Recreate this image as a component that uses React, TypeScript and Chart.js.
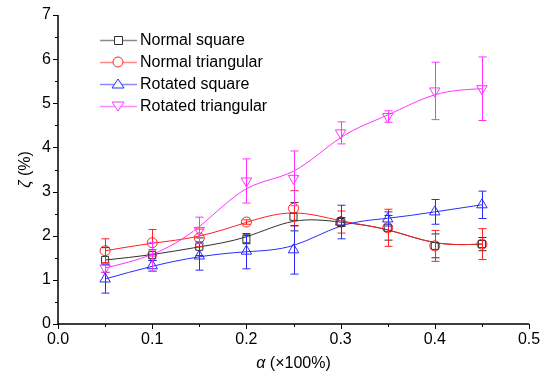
import React, { useEffect, useRef } from "react";
import { Chart, registerables } from "chart.js";

Chart.register(...registerables);

// Void fraction α (×100%)
const alpha = [0.05, 0.1, 0.15, 0.2, 0.25, 0.3, 0.35, 0.4, 0.45];

// Damping ratio ζ (%) and its error for each tube arrangement
const normalSquare = [1.45, 1.56, 1.75, 1.92, 2.43, 2.31, 2.18, 1.77, 1.81];
const normalSquareErr = [0.28, 0.12, 0.2, 0.1, 0.32, 0.1, 0.28, 0.27, 0.15];
const normalTriangular = [1.66, 1.84, 1.95, 2.31, 2.62, 2.31, 2.18, 1.77, 1.81];
const normalTriangularErr = [0.27, 0.3, 0.2, 0.05, 0.4, 0.25, 0.42, 0.35, 0.35];
const rotatedSquare = [1.02, 1.32, 1.54, 1.65, 1.68, 2.31, 2.38, 2.54, 2.7];
const rotatedSquareErr = [0.32, 0.12, 0.32, 0.4, 0.55, 0.38, 0.16, 0.28, 0.31];
const rotatedTriangular = [1.27, 1.52, 2.12, 3.24, 3.3, 4.33, 4.7, 5.28, 5.33];
const rotatedTriangularErr = [0.1, 0.33, 0.3, 0.5, 0.62, 0.25, 0.13, 0.65, 0.72];

const seriesNames = ["Normal square", "Normal triangular", "Rotated square", "Rotated triangular"];
const seriesColors = ["#303030", "#ff2020", "#2a2aff", "#ff33ff"];
const legendLineColors = ["#8a8a8a", "#ff8a8a", "#8a8aff", "#ff8aff"];
const seriesStyles = ["rect", "circle", "triangle", "triangle"];
const seriesRotation = [0, 0, 0, 180];

const xTicks = [0, 0.1, 0.2, 0.3, 0.4, 0.5];
const yTicks = [0, 1, 2, 3, 4, 5, 6, 7];

const FONT = "Arial, 'Liberation Sans', sans-serif";

// Connects each series with a cubic B-spline that uses the points as control
// points (clamped at both ends so it starts and ends on the first/last point).
const bsplinePlugin = {
  id: "bspline",
  beforeDatasetsDraw(chart: any) {
    const ctx = chart.ctx;
    const area = chart.chartArea;
    chart.data.datasets.forEach((ds: any, i: number) => {
      const meta = chart.getDatasetMeta(i);
      const pts = meta.data.map((el: any) => ({ x: el.x, y: el.y }));
      const n = pts.length;
      if (n < 2) return;
      const P = [
        { x: 2 * pts[0].x - pts[1].x, y: 2 * pts[0].y - pts[1].y },
        ...pts,
        { x: 2 * pts[n - 1].x - pts[n - 2].x, y: 2 * pts[n - 1].y - pts[n - 2].y },
      ];
      ctx.save();
      ctx.beginPath();
      ctx.rect(area.left, area.top, area.right - area.left, area.bottom - area.top);
      ctx.clip();
      ctx.strokeStyle = ds.borderColor;
      ctx.lineWidth = 1;
      ctx.beginPath();
      for (let k = 1; k < P.length - 2; k++) {
        const a = P[k - 1], b = P[k], c = P[k + 1], d = P[k + 2];
        const sx = (a.x + 4 * b.x + c.x) / 6;
        const sy = (a.y + 4 * b.y + c.y) / 6;
        if (k === 1) ctx.moveTo(sx, sy);
        ctx.bezierCurveTo(
          (2 * b.x + c.x) / 3, (2 * b.y + c.y) / 3,
          (b.x + 2 * c.x) / 3, (b.y + 2 * c.y) / 3,
          (b.x + 4 * c.x + d.x) / 6, (b.y + 4 * c.y + d.y) / 6
        );
      }
      ctx.stroke();
      ctx.restore();
    });
  },
};

const errorBarsPlugin = {
  id: "errorBars",
  afterDatasetsDraw(chart: any) {
    const ctx = chart.ctx;
    const xs = chart.scales.x;
    const ys = chart.scales.y;
    chart.data.datasets.forEach((ds: any) => {
      const errs: number[] = ds.errors;
      ctx.save();
      ctx.strokeStyle = ds.borderColor;
      ctx.lineWidth = 1;
      ds.data.forEach((p: any, j: number) => {
        const px = Math.round(xs.getPixelForValue(p.x)) + 0.5;
        const top = ys.getPixelForValue(p.y + errs[j]);
        const bot = ys.getPixelForValue(p.y - errs[j]);
        ctx.beginPath();
        ctx.moveTo(px, top);
        ctx.lineTo(px, bot);
        ctx.moveTo(px - 4, top);
        ctx.lineTo(px + 4, top);
        ctx.moveTo(px - 4, bot);
        ctx.lineTo(px + 4, bot);
        ctx.stroke();
      });
      ctx.restore();
    });
  },
};

const decorPlugin = {
  id: "decor",
  afterDraw(chart: any) {
    const ctx = chart.ctx;
    const xs = chart.scales.x;
    const ys = chart.scales.y;
    const area = chart.chartArea;
    ctx.save();
    ctx.strokeStyle = "#000";
    ctx.lineWidth = 1.5;
    // axis lines
    ctx.beginPath();
    ctx.moveTo(area.left, area.top);
    ctx.lineTo(area.left, area.bottom);
    ctx.lineTo(area.right, area.bottom);
    ctx.stroke();
    ctx.lineWidth = 1;
    // ticks (major + minor)
    ctx.beginPath();
    for (let v = 0; v <= 7.0001; v += 0.5) {
      const y = Math.round(ys.getPixelForValue(v)) + 0.5;
      const major = Math.abs(v - Math.round(v)) < 1e-6;
      ctx.moveTo(area.left, y);
      ctx.lineTo(area.left - (major ? 5 : 3), y);
    }
    for (let k = 0; k <= 10; k++) {
      const x = Math.round(xs.getPixelForValue(k * 0.05)) + 0.5;
      const major = k % 2 === 0;
      ctx.moveTo(x, area.bottom);
      ctx.lineTo(x, area.bottom + (major ? 5 : 3));
    }
    ctx.stroke();

    // tick labels
    ctx.fillStyle = "#000";
    ctx.font = `16px ${FONT}`;
    ctx.textAlign = "right";
    ctx.textBaseline = "middle";
    yTicks.forEach((v) => ctx.fillText(String(v), area.left - 7, ys.getPixelForValue(v)));
    ctx.textAlign = "center";
    ctx.textBaseline = "top";
    xTicks.forEach((v) => ctx.fillText(v.toFixed(1), xs.getPixelForValue(v), area.bottom + 8));

    // axis titles
    ctx.textBaseline = "middle";
    ctx.font = `italic 16px ${FONT}`;
    const a = "α";
    const rest = " (×100%)";
    const aw = ctx.measureText(a).width;
    ctx.font = `16px ${FONT}`;
    const rw = ctx.measureText(rest).width;
    const cx = (area.left + area.right) / 2;
    const ty = 364;
    ctx.textAlign = "left";
    ctx.font = `italic 16px ${FONT}`;
    ctx.fillText(a, cx - (aw + rw) / 2, ty);
    ctx.font = `16px ${FONT}`;
    ctx.fillText(rest, cx - (aw + rw) / 2 + aw, ty);

    ctx.save();
    ctx.translate(26, (area.top + area.bottom) / 2);
    ctx.rotate(-Math.PI / 2);
    ctx.font = `italic 16px ${FONT}`;
    const z = "ζ";
    const zr = " (%)";
    const zw = ctx.measureText(z).width;
    ctx.font = `16px ${FONT}`;
    const zrw = ctx.measureText(zr).width;
    ctx.font = `italic 16px ${FONT}`;
    ctx.fillText(z, -(zw + zrw) / 2, 0);
    ctx.font = `16px ${FONT}`;
    ctx.fillText(zr, -(zw + zrw) / 2 + zw, 0);
    ctx.restore();

    // legend
    const lx0 = 100;
    const lx1 = 137;
    const mx = 118;
    ctx.font = `16px ${FONT}`;
    ctx.textAlign = "left";
    ctx.textBaseline = "middle";
    seriesNames.forEach((name, i) => {
      const y = 40 + i * 22;
      ctx.strokeStyle = legendLineColors[i];
      ctx.lineWidth = 1.5;
      ctx.beginPath();
      ctx.moveTo(lx0, y + 0.5);
      ctx.lineTo(lx1, y + 0.5);
      ctx.stroke();
      ctx.fillStyle = "#fff";
      ctx.strokeStyle = seriesColors[i];
      ctx.lineWidth = 1;
      const style = seriesStyles[i];
      const r = style === "rect" ? 4 : 5;
      ctx.beginPath();
      if (style === "rect") {
        ctx.rect(mx - r + 0.5, y - r + 0.5, 2 * r, 2 * r);
      } else if (style === "circle") {
        ctx.arc(mx, y, r, 0, Math.PI * 2);
      } else if (seriesRotation[i] === 0) {
        ctx.moveTo(mx, y - 5);
        ctx.lineTo(mx + 6, y + 4);
        ctx.lineTo(mx - 6, y + 4);
        ctx.closePath();
      } else {
        ctx.moveTo(mx, y + 5);
        ctx.lineTo(mx + 6, y - 4);
        ctx.lineTo(mx - 6, y - 4);
        ctx.closePath();
      }
      ctx.fill();
      ctx.stroke();
      ctx.fillStyle = "#000";
      ctx.fillText(name, 140, y + 1);
    });
    ctx.restore();
  },
};

export default function App() {
  const ref = useRef<HTMLCanvasElement | null>(null);

  useEffect(() => {
    if (!ref.current) return;
    const series = [normalSquare, normalTriangular, rotatedSquare, rotatedTriangular];
    const errors = [normalSquareErr, normalTriangularErr, rotatedSquareErr, rotatedTriangularErr];
    const datasets = series.map((vals, i) => ({
      label: seriesNames[i],
      data: alpha.map((x, j) => ({ x, y: vals[j] })),
      errors: errors[i],
      borderColor: seriesColors[i],
      backgroundColor: "rgba(255,255,255,0)",
      borderWidth: 1,
      showLine: false,
      pointStyle: seriesStyles[i],
      rotation: seriesRotation[i],
      pointRadius: seriesStyles[i] === "rect" ? 5 : seriesStyles[i] === "circle" ? 5 : 6,
      pointBorderWidth: 1,
      pointBorderColor: seriesColors[i],
      pointBackgroundColor: "rgba(255,255,255,0)",
      fill: false,
    }));

    const chart = new Chart(ref.current, {
      type: "line",
      data: { datasets: datasets as any },
      options: {
        responsive: false,
        animation: false,
        devicePixelRatio: 1,
        layout: { padding: { top: 15, right: 12, left: 0, bottom: 0 } },
        plugins: { legend: { display: false }, tooltip: { enabled: false } },
        scales: {
          x: {
            type: "linear",
            min: 0,
            max: 0.5,
            grid: { display: false },
            border: { display: false },
            ticks: { display: false },
            afterFit: (s: any) => {
              s.height = 54;
            },
          },
          y: {
            min: 0,
            max: 7,
            grid: { display: false },
            border: { display: false },
            ticks: { display: false },
            afterFit: (s: any) => {
              s.width = 58;
            },
          },
        },
      },
      plugins: [bsplinePlugin, errorBarsPlugin, decorPlugin],
    });
    return () => chart.destroy();
  }, []);

  return (
    <div style={{ position: "fixed", left: 0, top: 0, width: 541, height: 378, background: "#fff" }}>
      <canvas ref={ref} width={541} height={378} style={{ display: "block" }} />
    </div>
  );
}
